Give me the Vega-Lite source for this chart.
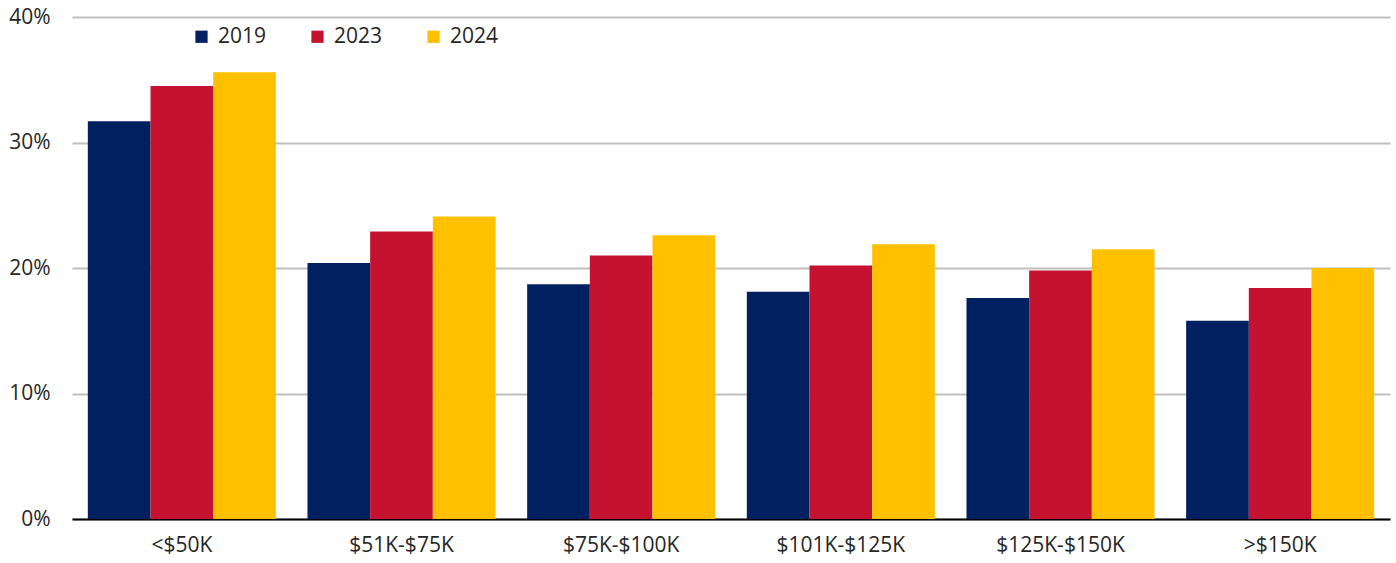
{
  "$schema": "https://vega.github.io/schema/vega-lite/v6.json",
  "width": 1318,
  "height": 502,
  "autosize": {"type": "none"},
  "padding": {"left": 72, "top": 17, "right": 6, "bottom": 44},
  "background": "white",
  "config": {
    "view": {"stroke": null},
    "font": "Open Sans"
  },
  "data": {
    "values": [
      {"income": "<$50K", "year": "2019", "value": 31.7},
      {"income": "<$50K", "year": "2023", "value": 34.5},
      {"income": "<$50K", "year": "2024", "value": 35.6},
      {"income": "$51K-$75K", "year": "2019", "value": 20.4},
      {"income": "$51K-$75K", "year": "2023", "value": 22.9},
      {"income": "$51K-$75K", "year": "2024", "value": 24.1},
      {"income": "$75K-$100K", "year": "2019", "value": 18.7},
      {"income": "$75K-$100K", "year": "2023", "value": 21.0},
      {"income": "$75K-$100K", "year": "2024", "value": 22.6},
      {"income": "$101K-$125K", "year": "2019", "value": 18.1},
      {"income": "$101K-$125K", "year": "2023", "value": 20.2},
      {"income": "$101K-$125K", "year": "2024", "value": 21.9},
      {"income": "$125K-$150K", "year": "2019", "value": 17.6},
      {"income": "$125K-$150K", "year": "2023", "value": 19.8},
      {"income": "$125K-$150K", "year": "2024", "value": 21.5},
      {"income": ">$150K", "year": "2019", "value": 15.8},
      {"income": ">$150K", "year": "2023", "value": 18.4},
      {"income": ">$150K", "year": "2024", "value": 20.0}
    ]
  },
  "mark": {"type": "bar"},
  "encoding": {
    "x": {
      "field": "income",
      "type": "nominal",
      "sort": null,
      "scale": {"paddingInner": 0.144, "paddingOuter": 0.072},
      "axis": {
        "title": null,
        "labelAngle": 0,
        "labelFontSize": 21,
        "labelColor": "#262626",
        "labelPadding": 15,
        "ticks": false,
        "domainColor": "#000000",
        "domainWidth": 2,
        "grid": false
      }
    },
    "xOffset": {"field": "year", "type": "nominal", "scale": {"paddingInner": 0, "paddingOuter": 0}},
    "y": {
      "field": "value",
      "type": "quantitative",
      "scale": {"domain": [0, 40]},
      "axis": {
        "title": null,
        "values": [0, 10, 20, 30, 40],
        "labelExpr": "datum.value + '%'",
        "labelFontSize": 21,
        "labelColor": "#262626",
        "labelPadding": 22,
        "ticks": false,
        "domain": false,
        "gridColor": "#bfbfbf",
        "gridWidth": 2
      }
    },
    "color": {
      "field": "year",
      "type": "nominal",
      "scale": {"domain": ["2019", "2023", "2024"], "range": ["#002060", "#C41230", "#FFC000"]},
      "legend": {
        "title": null,
        "orient": "none",
        "legendX": 119,
        "legendY": 9,
        "direction": "horizontal",
        "symbolType": "square",
        "symbolSize": 150,
        "symbolStrokeWidth": 0,
        "labelFontSize": 21,
        "labelColor": "#262626",
        "labelOffset": 6,
        "columnPadding": 40
      }
    }
  }
}
